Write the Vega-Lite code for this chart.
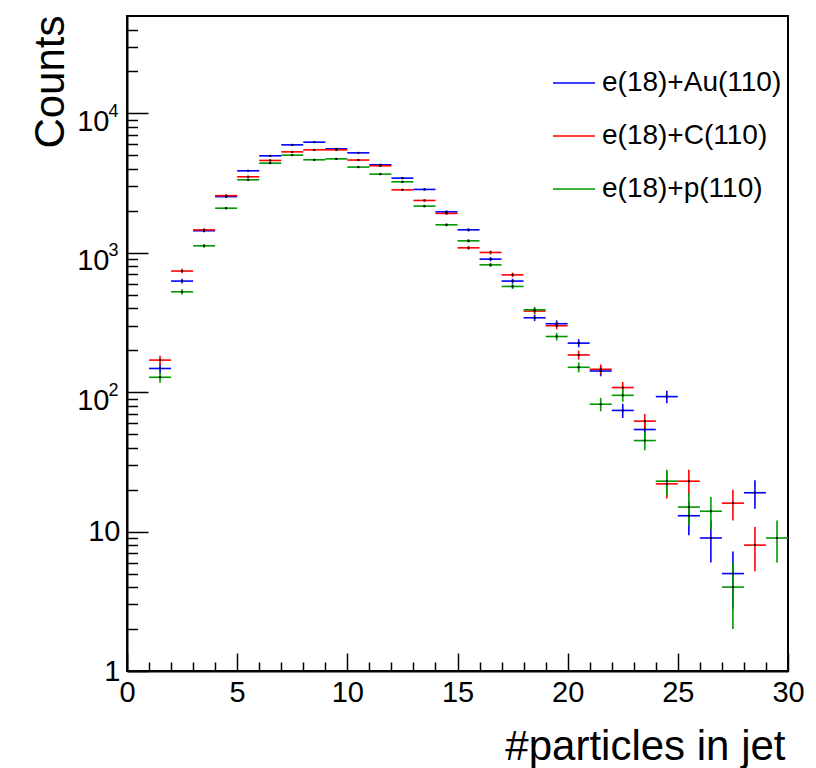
{
  "$schema": "https://vega.github.io/schema/vega-lite/v6.json",
  "autosize": "none",
  "width": 661,
  "height": 655,
  "padding": {"left": 127, "top": 16, "right": 28, "bottom": 97},
  "background": "white",
  "config": {
    "font": "Liberation Sans",
    "view": {"stroke": "black", "strokeWidth": 2},
    "axis": {"grid": false, "labelColor": "black", "titleColor": "black", "tickColor": "black", "domainColor": "black"}
  },
  "data": {"values": [
    {"s":"e(18)+Au(110)","x0":1,"x1":2,"xc":1.5,"n":148,"lo":135.8,"hi":160.2},
    {"s":"e(18)+Au(110)","x0":2,"x1":3,"xc":2.5,"n":627,"lo":602.0,"hi":652.0},
    {"s":"e(18)+Au(110)","x0":3,"x1":4,"xc":3.5,"n":1440,"lo":1402.1,"hi":1478.0},
    {"s":"e(18)+Au(110)","x0":4,"x1":5,"xc":4.5,"n":2530,"lo":2479.7,"hi":2580.3},
    {"s":"e(18)+Au(110)","x0":5,"x1":6,"xc":5.5,"n":3875,"lo":3812.8,"hi":3937.2},
    {"s":"e(18)+Au(110)","x0":6,"x1":7,"xc":6.5,"n":4965,"lo":4894.5,"hi":5035.5},
    {"s":"e(18)+Au(110)","x0":7,"x1":8,"xc":7.5,"n":5950,"lo":5872.9,"hi":6027.1},
    {"s":"e(18)+Au(110)","x0":8,"x1":9,"xc":8.5,"n":6220,"lo":6141.1,"hi":6298.9},
    {"s":"e(18)+Au(110)","x0":9,"x1":10,"xc":9.5,"n":5570,"lo":5495.4,"hi":5644.6},
    {"s":"e(18)+Au(110)","x0":10,"x1":11,"xc":10.5,"n":5215,"lo":5142.8,"hi":5287.2},
    {"s":"e(18)+Au(110)","x0":11,"x1":12,"xc":11.5,"n":4280,"lo":4214.6,"hi":4345.4},
    {"s":"e(18)+Au(110)","x0":12,"x1":13,"xc":12.5,"n":3435,"lo":3376.4,"hi":3493.6},
    {"s":"e(18)+Au(110)","x0":13,"x1":14,"xc":13.5,"n":2850,"lo":2796.6,"hi":2903.4},
    {"s":"e(18)+Au(110)","x0":14,"x1":15,"xc":14.5,"n":1968,"lo":1923.6,"hi":2012.4},
    {"s":"e(18)+Au(110)","x0":15,"x1":16,"xc":15.5,"n":1462,"lo":1423.8,"hi":1500.2},
    {"s":"e(18)+Au(110)","x0":16,"x1":17,"xc":16.5,"n":901,"lo":871.0,"hi":931.0},
    {"s":"e(18)+Au(110)","x0":17,"x1":18,"xc":17.5,"n":627,"lo":602.0,"hi":652.0},
    {"s":"e(18)+Au(110)","x0":18,"x1":19,"xc":18.5,"n":342,"lo":323.5,"hi":360.5},
    {"s":"e(18)+Au(110)","x0":19,"x1":20,"xc":19.5,"n":310,"lo":292.4,"hi":327.6},
    {"s":"e(18)+Au(110)","x0":20,"x1":21,"xc":20.5,"n":225,"lo":210.0,"hi":240.0},
    {"s":"e(18)+Au(110)","x0":21,"x1":22,"xc":21.5,"n":142,"lo":130.1,"hi":153.9},
    {"s":"e(18)+Au(110)","x0":22,"x1":23,"xc":22.5,"n":74,"lo":65.4,"hi":82.6},
    {"s":"e(18)+Au(110)","x0":23,"x1":24,"xc":23.5,"n":54,"lo":46.7,"hi":61.3},
    {"s":"e(18)+Au(110)","x0":24,"x1":25,"xc":24.5,"n":93,"lo":83.4,"hi":102.6},
    {"s":"e(18)+Au(110)","x0":25,"x1":26,"xc":25.5,"n":13,"lo":9.4,"hi":16.6},
    {"s":"e(18)+Au(110)","x0":26,"x1":27,"xc":26.5,"n":9,"lo":6.0,"hi":12.0},
    {"s":"e(18)+Au(110)","x0":27,"x1":28,"xc":27.5,"n":5,"lo":2.8,"hi":7.2},
    {"s":"e(18)+Au(110)","x0":28,"x1":29,"xc":28.5,"n":19,"lo":14.6,"hi":23.4},
    {"s":"e(18)+C(110)","x0":1,"x1":2,"xc":1.5,"n":170,"lo":157.0,"hi":183.0},
    {"s":"e(18)+C(110)","x0":2,"x1":3,"xc":2.5,"n":740,"lo":712.8,"hi":767.2},
    {"s":"e(18)+C(110)","x0":3,"x1":4,"xc":3.5,"n":1460,"lo":1421.8,"hi":1498.2},
    {"s":"e(18)+C(110)","x0":4,"x1":5,"xc":4.5,"n":2570,"lo":2519.3,"hi":2620.7},
    {"s":"e(18)+C(110)","x0":5,"x1":6,"xc":5.5,"n":3510,"lo":3450.8,"hi":3569.2},
    {"s":"e(18)+C(110)","x0":6,"x1":7,"xc":6.5,"n":4600,"lo":4532.2,"hi":4667.8},
    {"s":"e(18)+C(110)","x0":7,"x1":8,"xc":7.5,"n":5300,"lo":5227.2,"hi":5372.8},
    {"s":"e(18)+C(110)","x0":8,"x1":9,"xc":8.5,"n":5480,"lo":5406.0,"hi":5554.0},
    {"s":"e(18)+C(110)","x0":9,"x1":10,"xc":9.5,"n":5480,"lo":5406.0,"hi":5554.0},
    {"s":"e(18)+C(110)","x0":10,"x1":11,"xc":10.5,"n":4630,"lo":4562.0,"hi":4698.0},
    {"s":"e(18)+C(110)","x0":11,"x1":12,"xc":11.5,"n":4210,"lo":4145.1,"hi":4274.9},
    {"s":"e(18)+C(110)","x0":12,"x1":13,"xc":12.5,"n":2830,"lo":2776.8,"hi":2883.2},
    {"s":"e(18)+C(110)","x0":13,"x1":14,"xc":13.5,"n":2375,"lo":2326.3,"hi":2423.7},
    {"s":"e(18)+C(110)","x0":14,"x1":15,"xc":14.5,"n":1918,"lo":1874.2,"hi":1961.8},
    {"s":"e(18)+C(110)","x0":15,"x1":16,"xc":15.5,"n":1086,"lo":1053.0,"hi":1119.0},
    {"s":"e(18)+C(110)","x0":16,"x1":17,"xc":16.5,"n":1006,"lo":974.3,"hi":1037.7},
    {"s":"e(18)+C(110)","x0":17,"x1":18,"xc":17.5,"n":695,"lo":668.6,"hi":721.4},
    {"s":"e(18)+C(110)","x0":18,"x1":19,"xc":18.5,"n":382,"lo":362.5,"hi":401.5},
    {"s":"e(18)+C(110)","x0":19,"x1":20,"xc":19.5,"n":300,"lo":282.7,"hi":317.3},
    {"s":"e(18)+C(110)","x0":20,"x1":21,"xc":20.5,"n":185,"lo":171.4,"hi":198.6},
    {"s":"e(18)+C(110)","x0":21,"x1":22,"xc":21.5,"n":146,"lo":133.9,"hi":158.1},
    {"s":"e(18)+C(110)","x0":22,"x1":23,"xc":22.5,"n":108,"lo":97.6,"hi":118.4},
    {"s":"e(18)+C(110)","x0":23,"x1":24,"xc":23.5,"n":62,"lo":54.1,"hi":69.9},
    {"s":"e(18)+C(110)","x0":24,"x1":25,"xc":24.5,"n":22,"lo":17.3,"hi":26.7},
    {"s":"e(18)+C(110)","x0":25,"x1":26,"xc":25.5,"n":23,"lo":18.2,"hi":27.8},
    {"s":"e(18)+C(110)","x0":27,"x1":28,"xc":27.5,"n":16,"lo":12.0,"hi":20.0},
    {"s":"e(18)+C(110)","x0":28,"x1":29,"xc":28.5,"n":8,"lo":5.2,"hi":10.8},
    {"s":"e(18)+p(110)","x0":1,"x1":2,"xc":1.5,"n":128,"lo":116.7,"hi":139.3},
    {"s":"e(18)+p(110)","x0":2,"x1":3,"xc":2.5,"n":525,"lo":502.1,"hi":547.9},
    {"s":"e(18)+p(110)","x0":3,"x1":4,"xc":3.5,"n":1123,"lo":1089.5,"hi":1156.5},
    {"s":"e(18)+p(110)","x0":4,"x1":5,"xc":4.5,"n":2090,"lo":2044.3,"hi":2135.7},
    {"s":"e(18)+p(110)","x0":5,"x1":6,"xc":5.5,"n":3340,"lo":3282.2,"hi":3397.8},
    {"s":"e(18)+p(110)","x0":6,"x1":7,"xc":6.5,"n":4400,"lo":4333.7,"hi":4466.3},
    {"s":"e(18)+p(110)","x0":7,"x1":8,"xc":7.5,"n":5020,"lo":4949.1,"hi":5090.9},
    {"s":"e(18)+p(110)","x0":8,"x1":9,"xc":8.5,"n":4650,"lo":4581.8,"hi":4718.2},
    {"s":"e(18)+p(110)","x0":9,"x1":10,"xc":9.5,"n":4720,"lo":4651.3,"hi":4788.7},
    {"s":"e(18)+p(110)","x0":10,"x1":11,"xc":10.5,"n":4120,"lo":4055.8,"hi":4184.2},
    {"s":"e(18)+p(110)","x0":11,"x1":12,"xc":11.5,"n":3670,"lo":3609.4,"hi":3730.6},
    {"s":"e(18)+p(110)","x0":12,"x1":13,"xc":12.5,"n":3230,"lo":3173.2,"hi":3286.8},
    {"s":"e(18)+p(110)","x0":13,"x1":14,"xc":13.5,"n":2163,"lo":2116.5,"hi":2209.5},
    {"s":"e(18)+p(110)","x0":14,"x1":15,"xc":14.5,"n":1588,"lo":1548.2,"hi":1627.8},
    {"s":"e(18)+p(110)","x0":15,"x1":16,"xc":15.5,"n":1219,"lo":1184.1,"hi":1253.9},
    {"s":"e(18)+p(110)","x0":16,"x1":17,"xc":16.5,"n":820,"lo":791.4,"hi":848.6},
    {"s":"e(18)+p(110)","x0":17,"x1":18,"xc":17.5,"n":574,"lo":550.0,"hi":598.0},
    {"s":"e(18)+p(110)","x0":18,"x1":19,"xc":18.5,"n":390,"lo":370.3,"hi":409.7},
    {"s":"e(18)+p(110)","x0":19,"x1":20,"xc":19.5,"n":251,"lo":235.2,"hi":266.8},
    {"s":"e(18)+p(110)","x0":20,"x1":21,"xc":20.5,"n":151,"lo":138.7,"hi":163.3},
    {"s":"e(18)+p(110)","x0":21,"x1":22,"xc":21.5,"n":82,"lo":72.9,"hi":91.1},
    {"s":"e(18)+p(110)","x0":22,"x1":23,"xc":22.5,"n":95,"lo":85.3,"hi":104.7},
    {"s":"e(18)+p(110)","x0":23,"x1":24,"xc":23.5,"n":45,"lo":38.3,"hi":51.7},
    {"s":"e(18)+p(110)","x0":24,"x1":25,"xc":24.5,"n":23,"lo":18.2,"hi":27.8},
    {"s":"e(18)+p(110)","x0":25,"x1":26,"xc":25.5,"n":15,"lo":11.1,"hi":18.9},
    {"s":"e(18)+p(110)","x0":26,"x1":27,"xc":26.5,"n":14,"lo":10.3,"hi":17.7},
    {"s":"e(18)+p(110)","x0":27,"x1":28,"xc":27.5,"n":4,"lo":2.0,"hi":6.0},
    {"s":"e(18)+p(110)","x0":29,"x1":30,"xc":29.5,"n":9,"lo":6.0,"hi":12.0}
  ]},
  "resolve": {"axis": {"x": "independent", "y": "independent"}},
  "layer": [
    {
      "mark": {"type": "rule", "strokeWidth": 1.6},
      "encoding": {
        "x": {"field": "x0", "type": "quantitative",
          "scale": {"domain": [0, 30], "nice": false, "zero": false},
          "axis": {"orient": "bottom", "values": [0,5,10,15,20,25,30], "format": "d",
            "tickSize": -18, "tickWidth": 1.5, "domainWidth": 2,
            "labelFontSize": 29, "labelPadding": 25, "labelFlush": false, "labelOverlap": false,
            "title": "#particles in jet", "titleFontSize": 42, "titleFontWeight": "normal",
            "titleAlign": "right", "titleAnchor": "end", "titleBaseline": "alphabetic",
            "titleX": 658, "titleY": 88}},
        "x2": {"field": "x1"},
        "y": {"field": "n", "type": "quantitative",
          "scale": {"type": "log", "domain": [1, 50000], "nice": false},
          "axis": {"orient": "left", "values": [1,10,100,1000,10000],
            "labelExpr": "datum.value <= 1 ? '1' : '10'",
            "tickSize": -21, "tickWidth": 1.5, "domainWidth": 2,
            "labelFontSize": 29, "labelOverlap": false, "labelFlush": false,
            "labelPadding": {"condition": {"test": "datum.value > 10", "value": 39}, "value": 28},
            "labelOffset": {"condition": {"test": "datum.value > 10", "value": 8}, "value": 0},
            "title": "Counts", "titleFontSize": 42, "titleFontWeight": "normal",
            "titleAngle": -90, "titleAlign": "right", "titleBaseline": "alphabetic",
            "titleX": -64, "titleY": -1}},
        "color": {"field": "s", "type": "nominal",
          "scale": {"domain": ["e(18)+Au(110)", "e(18)+C(110)", "e(18)+p(110)"],
                    "range": ["#0000ff", "#ff0000", "#009900"]},
          "legend": {"title": null, "orient": "none", "legendX": 425, "legendY": 45,
            "symbolType": "stroke", "symbolSize": 1764, "symbolStrokeWidth": 1.5,
            "labelFontSize": 28, "labelOffset": 6, "rowPadding": 17, "padding": 0,
            "labelLimit": 0, "labelColor": "black"}}
      }
    },
    {
      "mark": {"type": "rule", "strokeWidth": 1.6},
      "encoding": {
        "x": {"field": "xc", "type": "quantitative",
          "scale": {"domain": [0, 30], "nice": false, "zero": false},
          "axis": {"orient": "bottom", "values": [1,2,3,4,6,7,8,9,11,12,13,14,16,17,18,19,21,22,23,24,26,27,28,29],
            "tickSize": -9, "tickWidth": 1.5, "domain": false, "labels": false, "title": null}},
        "y": {"field": "lo", "type": "quantitative",
          "scale": {"type": "log", "domain": [1, 50000], "nice": false},
          "axis": {"orient": "left", "values": [2,3,4,5,6,7,8,9,20,30,40,50,60,70,80,90,200,300,400,500,600,700,800,900,2000,3000,4000,5000,6000,7000,8000,9000,20000,30000,40000],
            "tickSize": -10.5, "tickWidth": 1.5, "domain": false, "labels": false, "title": null}},
        "y2": {"field": "hi"},
        "color": {"field": "s", "type": "nominal",
          "scale": {"domain": ["e(18)+Au(110)", "e(18)+C(110)", "e(18)+p(110)"],
                    "range": ["#0000ff", "#ff0000", "#009900"]}}
      }
    },
    {
      "mark": {"type": "square", "size": 4, "color": "black", "opacity": 1},
      "encoding": {
        "x": {"field": "xc", "type": "quantitative",
          "scale": {"domain": [0, 30], "nice": false, "zero": false}, "axis": null},
        "y": {"field": "n", "type": "quantitative",
          "scale": {"type": "log", "domain": [1, 50000], "nice": false},
          "axis": {"orient": "left", "values": [100, 1000, 10000],
            "labelExpr": "datum.value >= 10000 ? '4' : (datum.value >= 1000 ? '3' : '2')",
            "ticks": false, "tickSize": 0, "domain": false, "title": null,
            "labelFontSize": 18, "labelPadding": 9, "labelOverlap": false, "labelFlush": false,
            "labelBaseline": "middle", "labelAlign": "right", "labelOffset": -2}}
      }
    }
  ]
}
